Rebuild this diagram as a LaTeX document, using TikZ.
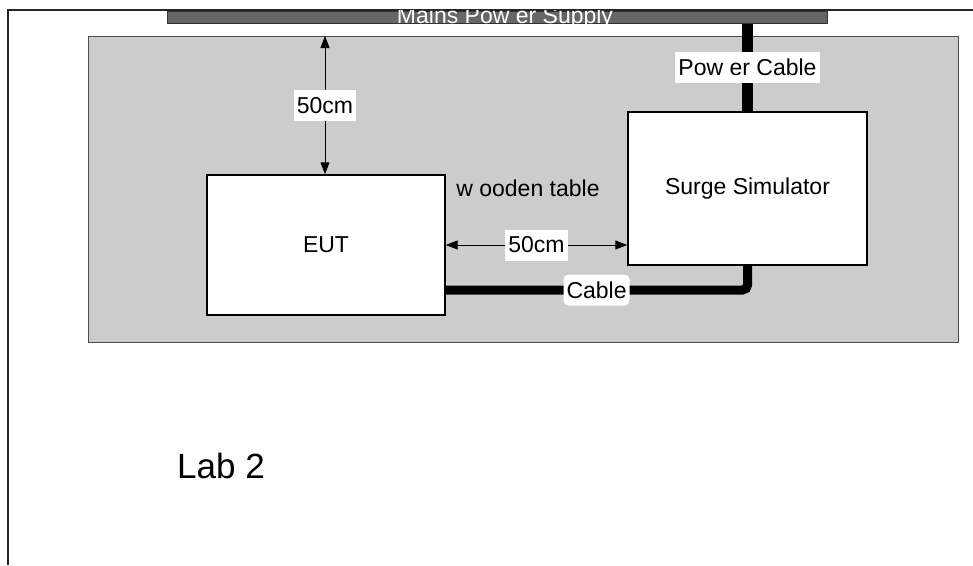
\documentclass[tikz,border=0pt]{standalone}
\usepackage{fontspec}
\setmainfont{Liberation Sans}
\usepackage{tikz}
\usetikzlibrary{arrows.meta,calc,positioning}
\definecolor{tablegray}{HTML}{CCCCCC}
\definecolor{tableedge}{HTML}{4D4D4D}
\definecolor{mainsgray}{HTML}{666666}
\tikzset{
  unit/.style={rectangle,draw=black,line width=1.4pt,fill=white,align=center,
    font=\fontsize{23}{27}\selectfont,inner sep=0pt},
  tablebox/.style={rectangle,draw=tableedge,line width=1.2pt,fill=tablegray,inner sep=0pt},
  mainsbar/.style={rectangle,draw=black!80,line width=1.2pt,fill=mainsgray,inner sep=0pt},
  tag/.style={fill=white,inner xsep=3pt,inner ysep=0pt,minimum height=31pt,font=\fontsize{23}{27}\selectfont},
  cable/.style={line width=#1,draw=black},
  cable/.default=9pt,
  dim/.style={{Triangle[length=12pt,width=9pt]}-{Triangle[length=12pt,width=9pt]},line width=0.9pt,draw=black}
}
\begin{document}
\begin{tikzpicture}[x=1pt,y=-1pt]
\useasboundingbox (0,0) rectangle (973,565);
\draw[line width=1.5pt,draw=black!85] (8,565) -- (8,10) -- (973,10);

\node[tablebox,minimum width=870pt,minimum height=306pt,anchor=north west] (table) at (88,36) {};
\node[mainsbar,minimum width=660pt,minimum height=12.5pt,anchor=north west] (mains) at (167,10.5) {};
\begin{scope}
  \clip (mains.north west) rectangle (mains.south east);
  \node[anchor=base,text=white,inner sep=0pt,font=\fontsize{23}{27}\selectfont] (mainstext) at (505,23.5) {Mains Pow er Supply};
\end{scope}

\node[unit,minimum width=238pt,minimum height=140pt] (eut) at (326,245) {EUT};
\node[unit,minimum width=239pt,minimum height=153pt] (surge) at (747.5,188.5) {Surge Simulator};
\node[font=\fontsize{23}{27}\selectfont] (wood) at (528,188) {w ooden table};

\coordinate (vtop) at (325,36);
\coordinate (bend) at (747.5,290);

\draw[cable=11pt] (mains.south -| surge.north) -- node[tag] (powertag) {Pow er Cable} (surge.north);
\draw[cable,rounded corners=5pt] (eut.east |- bend) -- node[tag] (cabletag) {Cable} (bend) -- (surge.south);

\draw[dim] (vtop) -- node[tag] (vtag) {50cm} (vtop |- eut.north);
\draw[dim] (eut.east) -- node[tag] (htag) {50cm} (surge.west |- eut.east);

\node[font=\fontsize{35}{40}\selectfont] (lab) at (221,466) {Lab 2};
\end{tikzpicture}
\end{document}
